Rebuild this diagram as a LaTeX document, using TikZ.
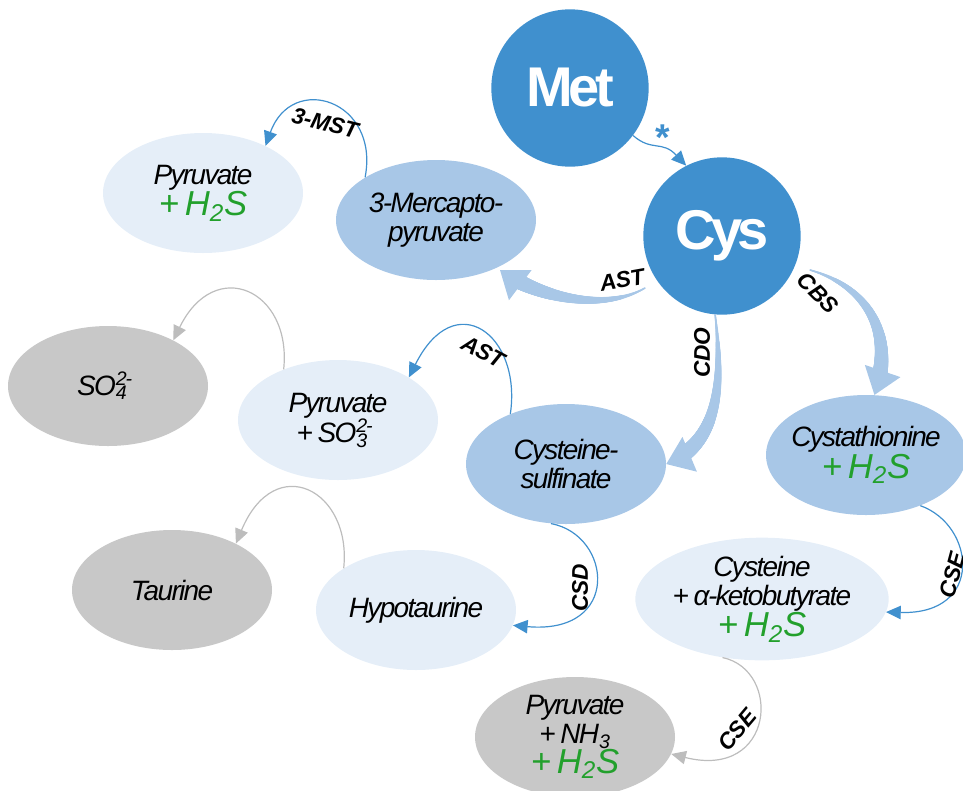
\documentclass[tikz,border=0pt]{standalone}
\usepackage{fontspec}
\setmainfont{Liberation Sans}[LetterSpace=-6]
\newfontfamily\enzfont{Liberation Sans}[LetterSpace=-1]
\newfontfamily\hubfont{Liberation Sans}[LetterSpace=-8]
\usetikzlibrary{arrows.meta,shapes.geometric,decorations.markings}

\definecolor{cysblue}{HTML}{4090CE}
\definecolor{midblue}{HTML}{A8C7E7}
\definecolor{paleblue}{HTML}{E5EEF8}
\definecolor{greyfill}{HTML}{C8C8C8}
\definecolor{linegrey}{HTML}{BDBDBD}
\definecolor{hsgreen}{RGB}{34,160,44}

\newcommand{\hsline}{{\color{hsgreen}\fontsize{26}{26}\selectfont +\,H\textsubscript{2}S}}

\begin{document}
\begin{tikzpicture}[x=0.75pt, y=-0.75pt,
    hubnode/.style={circle, fill=cysblue, minimum size=118pt, inner sep=0pt,
        text=white, font=\hubfont\fontsize{42}{42}\selectfont\bfseries},
    blob/.style={ellipse, minimum width=150pt, minimum height=90pt, inner sep=-12pt,
        align=center, font=\fontsize{21}{22}\selectfont\itshape},
    midnode/.style={blob, fill=midblue},
    palenode/.style={blob, fill=paleblue},
    greynode/.style={blob, fill=greyfill},
    enzyme/.style={font=\enzfont\fontsize{17}{17}\selectfont\bfseries\itshape, inner sep=0pt},
    flow/.style={draw=cysblue, line width=0.9pt, -{Triangle[length=11pt,width=10pt]}},
    greyflow/.style={flow, draw=linegrey},
    fatflow/.style={draw=midblue, line width=1.2pt, -{Triangle[length=19pt,width=28pt]},
        postaction={decorate, decoration={markings,
            mark=between positions 0 and -15pt step 0.4pt with {
                \pgfmathsetmacro\fatrad{0.5+6*\pgfkeysvalueof{/pgf/decoration/mark info/distance from start}/\pgfdecoratedpathlength}
                \fill[midblue] (0,0) circle (\fatrad pt);}}}}
]
\useasboundingbox (0,0) rectangle (963,790);

% metabolites
\node[hubnode] (met) at (570,88) {Met};
\node[hubnode] (cys) at (722,236) {Cys};
\node[midnode] (merc) at (436,220) {3-Mercapto-\\pyruvate};
\node[palenode] (pyrA) at (203,193) {Pyruvate\\\hsline};
\node[greynode] (so4) at (108,386) {SO\rlap{\textsuperscript{2-}}\textsubscript{4}\phantom{\textsuperscript{2}}};
\node[palenode] (pyrS) at (338,420) {Pyruvate\\+\,SO\rlap{\textsuperscript{2-}}\textsubscript{3}\phantom{\textsuperscript{2}}};
\node[midnode] (sulf) at (566,464) {Cysteine-\\sulfinate};
\node[midnode] (cysta) at (866,455) {Cystathionine\\\hsline};
\node[greynode] (taur) at (172,590) {Taurine};
\node[palenode] (hypo) at (416,610) {Hypotaurine};
\node[palenode, minimum width=190pt, minimum height=92pt] (cakb) at (762,599) {Cysteine\\+\,α-ketobutyrate\\\hsline};
\node[greynode] (pyrN) at (575,737) {Pyruvate\\+\,NH\textsubscript{3}\\\hsline};

% main routes out of Cys
\coordinate (astfoot) at (645,288);
\coordinate (asttip) at (500,270);
\coordinate (cbsfoot) at (810,270);
\draw[fatflow] (astfoot) .. controls (600,314) and (532,294) .. (asttip);
\draw[fatflow] (cys.265) .. controls (725,400) and (712,445) .. (sulf.east);
\draw[fatflow] (cbsfoot) .. controls (866,286) and (896,332) .. (cysta.82);
\node[enzyme, rotate=10] (east) at (622,280) {AST};
\node[enzyme, rotate=90] (ecdo) at (702,353) {CDO};
\node[enzyme, rotate=-45] (ecbs) at (818,293) {CBS};

% Met to Cys
\draw[flow] (met.-37) .. controls (652,152) and (662,140) .. (cys.117);
\node[text=cysblue, font=\fontsize{28}{28}\selectfont\bfseries] (star) at (663,138) {*};

% side reactions
\draw[flow] (merc.149) .. controls (380,100) and (292,72) .. (pyrA.37);
\node[enzyme, rotate=-14] (emst) at (325,123) {3-MST};
\draw[greyflow] (pyrS.137) .. controls (292,290) and (215,255) .. (so4.35);
\draw[flow] (sulf.138) .. controls (522,335) and (455,285) .. (pyrS.31);
\node[enzyme, rotate=-28] (east2) at (483,352) {AST};
\draw[greyflow] (hypo.150) .. controls (352,490) and (275,450) .. (taur.36);
\draw[flow] (sulf.-104) .. controls (612,535) and (622,635) .. (hypo.-9);
\node[enzyme, rotate=90] (ecsd) at (580,588) {CSD};
\draw[flow] (cysta.-43) .. controls (975,525) and (985,615) .. (cakb.-6);
\node[enzyme, rotate=75] (ecse) at (952,575) {CSE};
\draw[greyflow] (cakb.-124) .. controls (782,670) and (775,780) .. (pyrN.-10);
\node[enzyme, rotate=50] (ecse2) at (737,730) {CSE};
\end{tikzpicture}
\end{document}
